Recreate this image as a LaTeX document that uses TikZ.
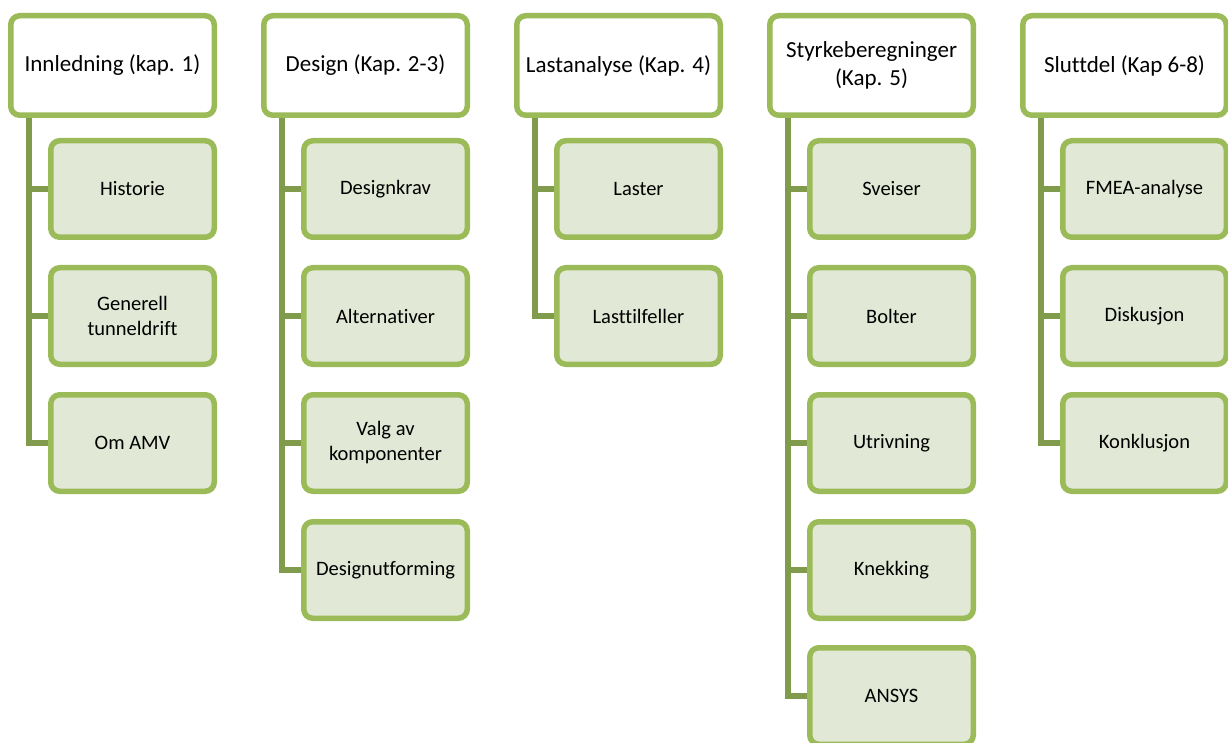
\documentclass[tikz,border=0pt]{standalone}
\usepackage{fontspec}
\setmainfont{Carlito}[Ligatures=NoCommon]
\usepackage{xcolor}
\usetikzlibrary{positioning}
\pgfdeclarelayer{background}
\pgfsetlayers{background,main}
\definecolor{boxgreen}{HTML}{9BBB59}
\definecolor{leaffill}{HTML}{E1E8D5}
\definecolor{stemgreen}{HTML}{7F9B4B}

\begin{document}
\begin{tikzpicture}[x=1pt,y=-1pt,
    head/.style={draw=boxgreen, line width=5.5pt, rounded corners=9pt, fill=white,
      minimum width=203.5pt, minimum height=99.5pt, inner sep=0pt, align=center,
      font=\fontsize{23}{28}\selectfont},
    leaf/.style={draw=boxgreen, line width=5.5pt, rounded corners=9pt, fill=leaffill,
      minimum width=163.5pt, minimum height=96.5pt, inner sep=0pt, align=center,
      font=\fontsize{20.5}{25}\selectfont},
    stem/.style={draw=stemgreen, line width=6pt}]
    \useasboundingbox (0,0) rectangle (1228,743);

    % chapter heads
    \node[head] (innledning) at (112.5,65.5) {Innledning (kap. 1)};
    \node[head] (design)     at (365.5,65.5) {Design (Kap. 2-3)};
    \node[head] (last)       at (618.5,65.5) {Lastanalyse (Kap. 4)};
    \node[head] (styrke)     at (871.5,65.5) {Styrkeberegninger\\(Kap. 5)};
    \node[head] (slutt)      at (1124.5,65.5) {Sluttdel (Kap 6-8)};

    % sections
    \node[leaf] (historie)  at (132.5,189)   {Historie};
    \node[leaf] (generell)  at (132.5,316)   {Generell\\tunneldrift};
    \node[leaf] (omamv)     at (132.5,443)   {Om AMV};

    \node[leaf] (krav)      at (385.5,189)   {Designkrav};
    \node[leaf] (alt)       at (385.5,316)   {Alternativer};
    \node[leaf] (valg)      at (385.5,443)   {Valg av\\komponenter};
    \node[leaf] (utforming) at (385.5,570)   {Designutforming};

    \node[leaf] (laster)    at (638.5,189)   {Laster};
    \node[leaf] (tilfeller) at (638.5,316)   {Lasttilfeller};

    \node[leaf] (sveiser)   at (891.5,189)   {Sveiser};
    \node[leaf] (bolter)    at (891.5,316)   {Bolter};
    \node[leaf] (utrivning) at (891.5,443)   {Utrivning};
    \node[leaf] (knekking)  at (891.5,570)   {Knekking};
    \node[leaf] (ansys)     at (891.5,696)   {ANSYS};

    \node[leaf] (fmea)       at (1144.5,189) {FMEA-analyse};
    \node[leaf] (diskusjon)  at (1144.5,316) {Diskusjon};
    \node[leaf] (konklusjon) at (1144.5,443) {Konklusjon};

    \begin{pgfonlayer}{background}
    \foreach \h/\l in {innledning/historie, innledning/generell, innledning/omamv,
        design/krav, design/alt, design/valg, design/utforming,
        last/laster, last/tilfeller,
        styrke/sveiser, styrke/bolter, styrke/utrivning, styrke/knekking, styrke/ansys,
        slutt/fmea, slutt/diskusjon, slutt/konklusjon}
      \draw[stem] ([xshift=21pt]\h.south west) |- (\l.west);
    \end{pgfonlayer}
\end{tikzpicture}
\end{document}
